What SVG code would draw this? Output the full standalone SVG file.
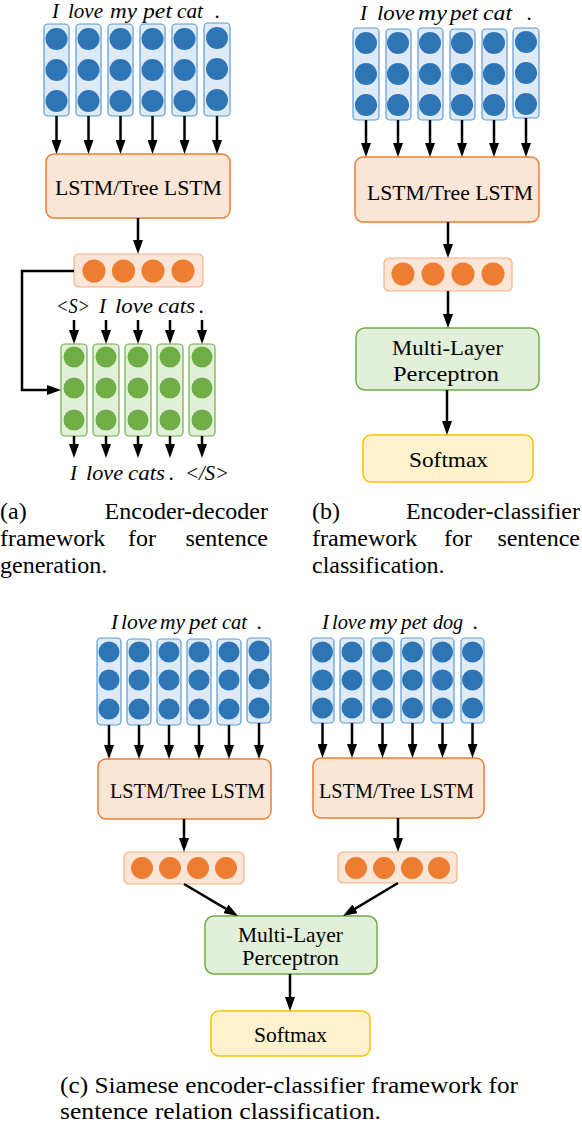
<svg xmlns="http://www.w3.org/2000/svg" width="582" height="1126" viewBox="0 0 582 1126">
<style>
.bg{fill:#ffffff}
.bcol{fill:#deebf7;stroke:#5b9bd5;stroke-width:1.2}
.bdot{fill:#2e75b6}
.gcol{fill:#e2f0d9;stroke:#70ad47;stroke-width:1.2}
.gdot{fill:#70ad47}
.ovec{fill:#fbe5d6;stroke:#f4b183;stroke-width:1.2}
.odot{fill:#ed7d31}
.lstm{fill:#fbe5d6;stroke:#ed7d31;stroke-width:1.5}
.mlp{fill:#e2f0d9;stroke:#70ad47;stroke-width:1.5}
.soft{fill:#fff2cc;stroke:#ffc000;stroke-width:1.5}
.lbl{font-family:'Liberation Serif','DejaVu Serif',serif;font-size:22px;fill:#000}
.it{font-family:'Liberation Serif','DejaVu Serif',serif;font-style:italic;font-size:21px;fill:#000}
.cap{font-family:'Liberation Serif','DejaVu Serif',serif;font-size:24px;fill:#000}
.arr{stroke:#000;stroke-width:2.5;fill:none;marker-end:url(#ah)}
</style>
<defs>
<marker id="ah" viewBox="0 0 14 10" refX="6" refY="5" markerWidth="14" markerHeight="10" markerUnits="userSpaceOnUse" orient="auto">
<path d="M0,0 L14,5 L0,10 z" fill="#000"/>
</marker>
</defs>
<rect class="bg" x="0" y="0" width="582" height="1126"/>

<!-- Panel (a) -->
<g id="a-words-top">
<text class="it" x="52" y="18">I</text>
<text class="it" x="68" y="18" textLength="35" lengthAdjust="spacingAndGlyphs">love</text>
<text class="it" x="110" y="18" textLength="27" lengthAdjust="spacingAndGlyphs">my</text>
<text class="it" x="143" y="18" textLength="29" lengthAdjust="spacingAndGlyphs">pet</text>
<text class="it" x="177" y="18" textLength="26" lengthAdjust="spacingAndGlyphs">cat</text>
<text class="it" x="215" y="18">.</text>
</g>
<g id="a-embed">
<rect class="bcol" x="44" y="24" width="25" height="92" rx="4"/>
<rect class="bcol" x="76" y="24" width="25" height="92" rx="4"/>
<rect class="bcol" x="108" y="24" width="25" height="92" rx="4"/>
<rect class="bcol" x="140" y="24" width="25" height="92" rx="4"/>
<rect class="bcol" x="172" y="24" width="25" height="92" rx="4"/>
<rect class="bcol" x="204" y="23" width="26" height="93" rx="4"/>
<g class="bdot">
<circle cx="56.5" cy="39" r="11"/><circle cx="56.5" cy="70" r="11"/><circle cx="56.5" cy="101" r="11"/>
<circle cx="88.5" cy="39" r="11"/><circle cx="88.5" cy="70" r="11"/><circle cx="88.5" cy="101" r="11"/>
<circle cx="120.5" cy="39" r="11"/><circle cx="120.5" cy="70" r="11"/><circle cx="120.5" cy="101" r="11"/>
<circle cx="152.5" cy="39" r="11"/><circle cx="152.5" cy="70" r="11"/><circle cx="152.5" cy="101" r="11"/>
<circle cx="184.5" cy="39" r="11"/><circle cx="184.5" cy="70" r="11"/><circle cx="184.5" cy="101" r="11"/>
<circle cx="217" cy="38" r="11"/><circle cx="217" cy="69" r="11"/><circle cx="217" cy="100" r="11"/>
</g>
</g>
<g id="a-lstm">
<rect class="lstm" x="46" y="154" width="184" height="64" rx="8"/>
<text class="lbl" x="55" y="195" textLength="167" lengthAdjust="spacingAndGlyphs">LSTM/Tree LSTM</text>
</g>
<g id="a-vec">
<rect class="ovec" x="74" y="254" width="129" height="33" rx="5"/>
<g class="odot">
<circle cx="94" cy="271" r="11.5"/><circle cx="123.5" cy="271" r="11.5"/><circle cx="153" cy="271" r="11.5"/><circle cx="183" cy="271" r="11.5"/>
</g>
</g>
<g id="a-words-in">
<text class="it" x="56" y="313" textLength="34" lengthAdjust="spacingAndGlyphs">&lt;S&gt;</text>
<text class="it" x="99" y="313">I</text>
<text class="it" x="115" y="313" textLength="38" lengthAdjust="spacingAndGlyphs">love</text>
<text class="it" x="158" y="313" textLength="37" lengthAdjust="spacingAndGlyphs">cats</text>
<text class="it" x="199" y="313">.</text>
</g>
<g id="a-decoder">
<rect class="gcol" x="61" y="344" width="26" height="92" rx="4"/>
<rect class="gcol" x="93" y="344" width="26" height="92" rx="4"/>
<rect class="gcol" x="125" y="344" width="26" height="92" rx="4"/>
<rect class="gcol" x="157" y="344" width="26" height="92" rx="4"/>
<rect class="gcol" x="189" y="344" width="26" height="92" rx="4"/>
<g class="gdot">
<circle cx="74" cy="357" r="10.5"/><circle cx="74" cy="388" r="10.5"/><circle cx="74" cy="420" r="10.5"/>
<circle cx="106" cy="357" r="10.5"/><circle cx="106" cy="388" r="10.5"/><circle cx="106" cy="420" r="10.5"/>
<circle cx="138" cy="357" r="10.5"/><circle cx="138" cy="388" r="10.5"/><circle cx="138" cy="420" r="10.5"/>
<circle cx="170" cy="357" r="10.5"/><circle cx="170" cy="388" r="10.5"/><circle cx="170" cy="420" r="10.5"/>
<circle cx="202" cy="357" r="10.5"/><circle cx="202" cy="388" r="10.5"/><circle cx="202" cy="420" r="10.5"/>
</g>
</g>
<g id="a-words-out">
<text class="it" x="70" y="480">I</text>
<text class="it" x="86" y="480" textLength="37" lengthAdjust="spacingAndGlyphs">love</text>
<text class="it" x="128" y="480" textLength="37" lengthAdjust="spacingAndGlyphs">cats</text>
<text class="it" x="169" y="480">.</text>
<text class="it" x="185" y="480" textLength="44" lengthAdjust="spacingAndGlyphs">&lt;/S&gt;</text>
</g>

<!-- Panel (b) -->
<g id="b-words-top">
<text class="it" x="360" y="20">I</text>
<text class="it" x="377" y="20" textLength="38" lengthAdjust="spacingAndGlyphs">love</text>
<text class="it" x="418" y="20" textLength="29" lengthAdjust="spacingAndGlyphs">my</text>
<text class="it" x="450" y="20" textLength="28" lengthAdjust="spacingAndGlyphs">pet</text>
<text class="it" x="483" y="20" textLength="29" lengthAdjust="spacingAndGlyphs">cat</text>
<text class="it" x="527" y="20">.</text>
</g>
<g id="b-embed">
<rect class="bcol" x="353" y="28" width="26" height="92" rx="4"/>
<rect class="bcol" x="386" y="29" width="25" height="91" rx="4"/>
<rect class="bcol" x="418" y="28" width="25" height="92" rx="4"/>
<rect class="bcol" x="450" y="29" width="25" height="91" rx="4"/>
<rect class="bcol" x="482" y="29" width="25" height="91" rx="4"/>
<rect class="bcol" x="513" y="28" width="26" height="90" rx="4"/>
<g class="bdot">
<circle cx="366" cy="43" r="11"/><circle cx="366" cy="74" r="11"/><circle cx="366" cy="105" r="11"/>
<circle cx="398" cy="43" r="11"/><circle cx="398" cy="74" r="11"/><circle cx="398" cy="105" r="11"/>
<circle cx="430" cy="43" r="11"/><circle cx="430" cy="74" r="11"/><circle cx="430" cy="105" r="11"/>
<circle cx="462" cy="43" r="11"/><circle cx="462" cy="74" r="11"/><circle cx="462" cy="105" r="11"/>
<circle cx="494" cy="43" r="11"/><circle cx="494" cy="74" r="11"/><circle cx="494" cy="105" r="11"/>
<circle cx="526" cy="42" r="11"/><circle cx="526" cy="73" r="11"/><circle cx="526" cy="104" r="11"/>
</g>
</g>
<g id="b-lstm">
<rect class="lstm" x="355" y="157" width="184" height="65" rx="8"/>
<text class="lbl" x="367" y="200" textLength="166" lengthAdjust="spacingAndGlyphs">LSTM/Tree LSTM</text>
</g>
<g id="b-vec">
<rect class="ovec" x="384" y="258" width="128" height="33" rx="5"/>
<g class="odot">
<circle cx="403" cy="274" r="11.5"/><circle cx="433" cy="274" r="11.5"/><circle cx="463" cy="274" r="11.5"/><circle cx="493" cy="274" r="11.5"/>
</g>
</g>
<g id="b-mlp">
<rect class="mlp" x="356" y="328" width="183" height="62" rx="9"/>
<text class="lbl" x="392" y="355" textLength="111" lengthAdjust="spacingAndGlyphs">Multi-Layer</text>
<text class="lbl" x="393" y="381" textLength="106" lengthAdjust="spacingAndGlyphs">Perceptron</text>
</g>
<g id="b-softmax">
<rect class="soft" x="363" y="435" width="170" height="47" rx="8"/>
<text class="lbl" x="409" y="467" textLength="79" lengthAdjust="spacingAndGlyphs">Softmax</text>
</g>

<!-- Panel (c) -->
<g id="c-words-left">
<text class="it" x="111" y="629">I</text>
<text class="it" x="121" y="629" textLength="36" lengthAdjust="spacingAndGlyphs">love</text>
<text class="it" x="160" y="629" textLength="25" lengthAdjust="spacingAndGlyphs">my</text>
<text class="it" x="189" y="629" textLength="28" lengthAdjust="spacingAndGlyphs">pet</text>
<text class="it" x="222" y="629" textLength="25" lengthAdjust="spacingAndGlyphs">cat</text>
<text class="it" x="257" y="629">.</text>
</g>
<g id="c-embed-left">
<rect class="bcol" x="97" y="638" width="24" height="87" rx="4"/>
<rect class="bcol" x="127" y="639" width="24" height="86" rx="4"/>
<rect class="bcol" x="157" y="639" width="24" height="86" rx="4"/>
<rect class="bcol" x="187" y="639" width="24" height="86" rx="4"/>
<rect class="bcol" x="217" y="639" width="24" height="86" rx="4"/>
<rect class="bcol" x="247" y="638" width="24" height="85" rx="4"/>
<g class="bdot">
<circle cx="109" cy="652" r="10.5"/><circle cx="109" cy="680" r="10.5"/><circle cx="109" cy="709" r="10.5"/>
<circle cx="139" cy="652" r="10.5"/><circle cx="139" cy="680" r="10.5"/><circle cx="139" cy="709" r="10.5"/>
<circle cx="169" cy="652" r="10.5"/><circle cx="169" cy="680" r="10.5"/><circle cx="169" cy="709" r="10.5"/>
<circle cx="199" cy="652" r="10.5"/><circle cx="199" cy="680" r="10.5"/><circle cx="199" cy="709" r="10.5"/>
<circle cx="229" cy="652" r="10.5"/><circle cx="229" cy="680" r="10.5"/><circle cx="229" cy="709" r="10.5"/>
<circle cx="259" cy="651" r="10.5"/><circle cx="259" cy="679" r="10.5"/><circle cx="259" cy="708" r="10.5"/>
</g>
</g>
<g id="c-lstm-left">
<rect class="lstm" x="98" y="759" width="173" height="60" rx="8"/>
<text class="lbl" x="110" y="798" textLength="155" lengthAdjust="spacingAndGlyphs">LSTM/Tree LSTM</text>
</g>
<g id="c-vec-left">
<rect class="ovec" x="124" y="852" width="120" height="32" rx="5"/>
<g class="odot">
<circle cx="142" cy="868" r="11"/><circle cx="170" cy="868" r="11"/><circle cx="198" cy="868" r="11"/><circle cx="226" cy="868" r="11"/>
</g>
</g>
<g id="c-words-right">
<text class="it" x="322" y="629">I</text>
<text class="it" x="332" y="629" textLength="34" lengthAdjust="spacingAndGlyphs">love</text>
<text class="it" x="369" y="629" textLength="28" lengthAdjust="spacingAndGlyphs">my</text>
<text class="it" x="401" y="629" textLength="26" lengthAdjust="spacingAndGlyphs">pet</text>
<text class="it" x="433" y="629" textLength="30" lengthAdjust="spacingAndGlyphs">dog</text>
<text class="it" x="473" y="629">.</text>
</g>
<g id="c-embed-right">
<rect class="bcol" x="311" y="638" width="23" height="85" rx="4"/>
<rect class="bcol" x="340" y="638" width="24" height="85" rx="4"/>
<rect class="bcol" x="371" y="638" width="23" height="85" rx="4"/>
<rect class="bcol" x="401" y="638" width="23" height="85" rx="4"/>
<rect class="bcol" x="431" y="638" width="23" height="85" rx="4"/>
<rect class="bcol" x="461" y="638" width="23" height="85" rx="4"/>
<g class="bdot">
<circle cx="322.5" cy="652" r="10.5"/><circle cx="322.5" cy="680" r="10.5"/><circle cx="322.5" cy="708" r="10.5"/>
<circle cx="352" cy="652" r="10.5"/><circle cx="352" cy="680" r="10.5"/><circle cx="352" cy="708" r="10.5"/>
<circle cx="382.5" cy="652" r="10.5"/><circle cx="382.5" cy="680" r="10.5"/><circle cx="382.5" cy="708" r="10.5"/>
<circle cx="412.5" cy="652" r="10.5"/><circle cx="412.5" cy="680" r="10.5"/><circle cx="412.5" cy="708" r="10.5"/>
<circle cx="442.5" cy="652" r="10.5"/><circle cx="442.5" cy="680" r="10.5"/><circle cx="442.5" cy="708" r="10.5"/>
<circle cx="472.5" cy="652" r="10.5"/><circle cx="472.5" cy="680" r="10.5"/><circle cx="472.5" cy="708" r="10.5"/>
</g>
</g>
<g id="c-lstm-right">
<rect class="lstm" x="313" y="758" width="171" height="60" rx="8"/>
<text class="lbl" x="319" y="798" textLength="155" lengthAdjust="spacingAndGlyphs">LSTM/Tree LSTM</text>
</g>
<g id="c-vec-right">
<rect class="ovec" x="338" y="852" width="119" height="31" rx="5"/>
<g class="odot">
<circle cx="356" cy="868" r="11"/><circle cx="384" cy="868" r="11"/><circle cx="412" cy="868" r="11"/><circle cx="439" cy="868" r="11"/>
</g>
</g>
<g id="c-mlp">
<rect class="mlp" x="205" y="916" width="172" height="58" rx="9"/>
<text class="lbl" x="238" y="942" textLength="105" lengthAdjust="spacingAndGlyphs">Multi-Layer</text>
<text class="lbl" x="242" y="965" textLength="97" lengthAdjust="spacingAndGlyphs">Perceptron</text>
</g>
<g id="c-softmax">
<rect class="soft" x="211" y="1011" width="159" height="45" rx="8"/>
<text class="lbl" x="254" y="1042" textLength="73" lengthAdjust="spacingAndGlyphs">Softmax</text>
</g>

<!-- Connectors -->
<g id="connectors">
<line class="arr" x1="56.5" y1="116" x2="56.5" y2="146"/>
<line class="arr" x1="88.5" y1="116" x2="88.5" y2="146"/>
<line class="arr" x1="120.5" y1="116" x2="120.5" y2="146"/>
<line class="arr" x1="152.5" y1="116" x2="152.5" y2="146"/>
<line class="arr" x1="184.5" y1="116" x2="184.5" y2="146"/>
<line class="arr" x1="217" y1="116" x2="217" y2="146"/>
<line class="arr" x1="138" y1="218" x2="138" y2="246"/>
<polyline class="arr" points="74,271 22,271 22,390 53,390"/>
<line class="arr" x1="74" y1="320" x2="74" y2="336"/>
<line class="arr" x1="106" y1="320" x2="106" y2="336"/>
<line class="arr" x1="138" y1="320" x2="138" y2="336"/>
<line class="arr" x1="170" y1="320" x2="170" y2="336"/>
<line class="arr" x1="202" y1="320" x2="202" y2="336"/>
<line class="arr" x1="74" y1="436" x2="74" y2="450"/>
<line class="arr" x1="106" y1="436" x2="106" y2="450"/>
<line class="arr" x1="138" y1="436" x2="138" y2="450"/>
<line class="arr" x1="170" y1="436" x2="170" y2="450"/>
<line class="arr" x1="202" y1="436" x2="202" y2="450"/>

<line class="arr" x1="366" y1="120" x2="366" y2="149"/>
<line class="arr" x1="398" y1="120" x2="398" y2="149"/>
<line class="arr" x1="430" y1="120" x2="430" y2="149"/>
<line class="arr" x1="462" y1="120" x2="462" y2="149"/>
<line class="arr" x1="494" y1="120" x2="494" y2="149"/>
<line class="arr" x1="526" y1="118" x2="526" y2="149"/>
<line class="arr" x1="448" y1="222" x2="448" y2="250"/>
<line class="arr" x1="448" y1="291" x2="448" y2="320"/>
<line class="arr" x1="447" y1="390" x2="447" y2="427"/>

<line class="arr" x1="109" y1="725" x2="109" y2="751"/>
<line class="arr" x1="139" y1="725" x2="139" y2="751"/>
<line class="arr" x1="169" y1="725" x2="169" y2="751"/>
<line class="arr" x1="199" y1="725" x2="199" y2="751"/>
<line class="arr" x1="229" y1="725" x2="229" y2="751"/>
<line class="arr" x1="259" y1="723" x2="259" y2="751"/>
<line class="arr" x1="322.5" y1="723" x2="322.5" y2="750"/>
<line class="arr" x1="352" y1="723" x2="352" y2="750"/>
<line class="arr" x1="382.5" y1="723" x2="382.5" y2="750"/>
<line class="arr" x1="412.5" y1="723" x2="412.5" y2="750"/>
<line class="arr" x1="442.5" y1="723" x2="442.5" y2="750"/>
<line class="arr" x1="472.5" y1="723" x2="472.5" y2="750"/>
<line class="arr" x1="184" y1="819" x2="184" y2="844"/>
<line class="arr" x1="398" y1="818" x2="398" y2="844"/>
<line class="arr" x1="184" y1="884" x2="231.1" y2="911.9"/>
<line class="arr" x1="398" y1="883" x2="349.9" y2="911.9"/>
<line class="arr" x1="290" y1="974" x2="290" y2="1003"/>
</g>

<!-- Captions -->
<g id="captions">
<text class="cap" x="0" y="519">(a)</text>
<text class="cap" x="268" y="519" text-anchor="end">Encoder-decoder</text>
<text class="cap" x="0" y="546">framework</text>
<text class="cap" x="142" y="546" text-anchor="middle">for</text>
<text class="cap" x="268" y="546" text-anchor="end">sentence</text>
<text class="cap" x="0" y="573">generation.</text>
<text class="cap" x="312" y="519">(b)</text>
<text class="cap" x="580" y="519" text-anchor="end">Encoder-classifier</text>
<text class="cap" x="312" y="546">framework</text>
<text class="cap" x="458" y="546" text-anchor="middle">for</text>
<text class="cap" x="580" y="546" text-anchor="end">sentence</text>
<text class="cap" x="312" y="573">classification.</text>
<text class="cap" x="60" y="1093" textLength="458" lengthAdjust="spacingAndGlyphs">(c) Siamese encoder-classifier framework for</text>
<text class="cap" x="60" y="1119" textLength="321" lengthAdjust="spacingAndGlyphs">sentence relation classification.</text>
</g>
</svg>
